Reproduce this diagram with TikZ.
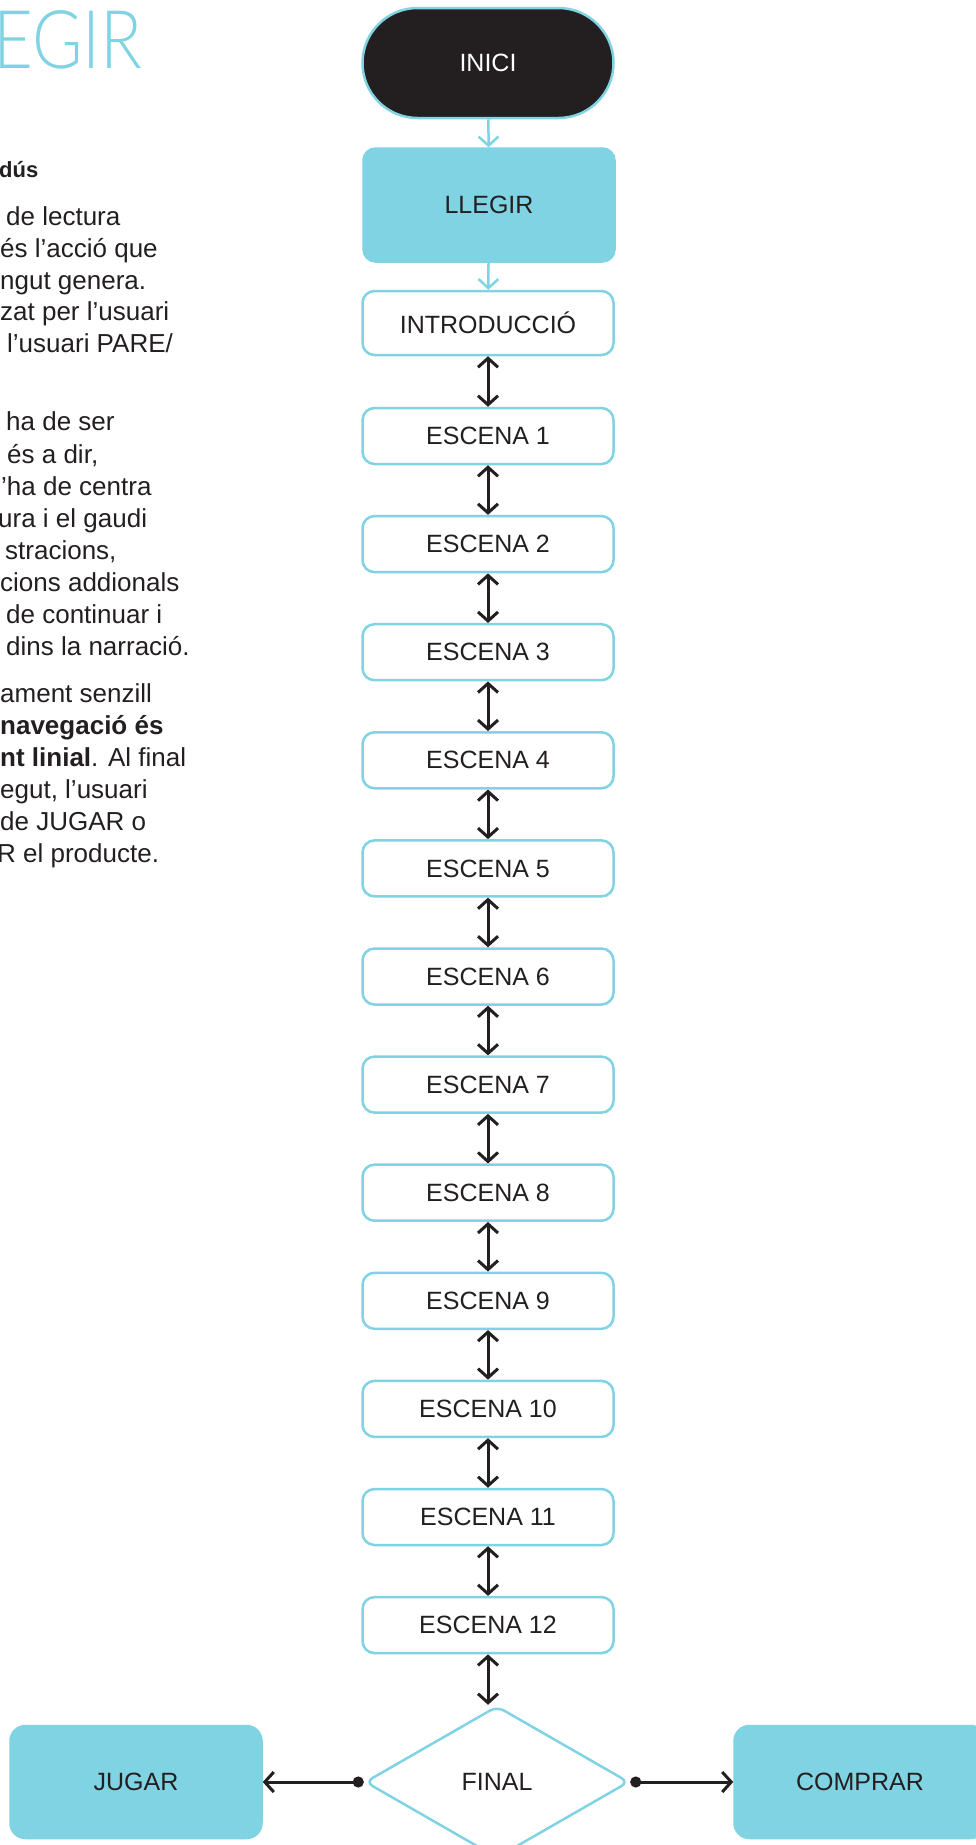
\documentclass[tikz,border=0pt]{standalone}
\usepackage{fontspec}
\setmainfont{Liberation Sans}
\newfontfamily\titlefont{Lato Light}
\usepackage{graphicx}
\usetikzlibrary{shapes.geometric, arrows.meta, positioning}
\definecolor{llblue}{RGB}{128,211,227}
\definecolor{inkblack}{RGB}{35,31,32}
\tikzset{chev/.tip={Straight Barb[length=9pt,width=20pt]}, >=chev}
\tikzset{
  box/.style={draw=llblue, line width=2.5pt, rounded corners=12pt, minimum width=251pt,
    inner sep=0pt, text=inkblack, font=\fontsize{25}{30}\selectfont},
  scene/.style={box, fill=white, minimum height=56pt},
  fullbox/.style={box, fill=llblue, minimum height=113pt},
  link/.style={<->, line width=3pt, draw=inkblack},
  flow/.style={->, line width=2.5pt, draw=llblue},
  branch/.style={{Circle[length=11pt]}-chev, line width=3pt, draw=inkblack},
  para/.style={anchor=base west, inner sep=0pt, text=inkblack, font=\fontsize{26}{32}\selectfont},
}

\begin{document}
\begin{tikzpicture}[x=1pt, y=-1pt]
\useasboundingbox (0,0) rectangle (975,1845);

% text column, cut at the left edge
\node[anchor=base west, inner sep=0pt, text=llblue, font=\titlefont\fontsize{81}{81}\selectfont]
  (title) at (-7,68) {\scalebox{0.85}[1]{EGIR}};
\node[para, font=\fontsize{22}{26}\selectfont] (head) at (-1,177) {\textbf{dús}};
\foreach \y/\x/\t in {225/6/{de lectura}, 257/0/{és l’acció que}, 289/0/{ngut genera.},
    320/0/{zat per l’usuari}, 352/7/{l’usuari PARE/}, 430/6/{ha de ser}, 463/7/{és a dir,},
    495/1/{’ha de centra}, 527/-2/{ura i el gaudi}, 559/5/{stracions,}, 591/0/{cions addionals},
    623/6/{de continuar i}, 655/6/{dins la narració.}, 702/0/{ament senzill},
    734/0/{\textbf{navegació és}}, 766/0/{\textbf{nt linial}. Al final}, 798/0/{egut, l’usuari},
    830/0/{de JUGAR o}, 862/-3/{R el producte.}} {
  \node[para] (txt\y) at (\x,\y) {\t};
}

% flowchart
\node[box, fill=inkblack, text=white, minimum height=110pt, rounded corners=55pt] (inici) at (488,63) {INICI};
\node[fullbox] (llegir) at (489,205) {LLEGIR};
\node[scene, minimum height=64pt] (intro) at (488,323) {INTRODUCCIÓ};
\foreach \i in {1,...,12} {
  \node[scene] (escena\i) at (488,{436+108.1*(\i-1)}) {ESCENA \i};
}
\node[diamond, draw=llblue, line width=2.5pt, minimum width=264pt, minimum height=152pt,
  rounded corners=8pt, inner sep=0pt, text=inkblack, font=\fontsize{25}{30}\selectfont]
  (final) at (497,1782) {FINAL};
\node[fullbox, minimum height=112pt, rounded corners=15pt] (jugar) at (136,1782) {JUGAR};
\node[fullbox, minimum height=112pt, rounded corners=15pt] (comprar) at (860,1782) {COMPRAR};

\draw[flow] (inici) -- (llegir);
\draw[flow] (llegir) -- (intro);
\draw[link] (intro) -- (escena1);
\foreach \i [count=\j from 2] in {1,...,11} {
  \draw[link] (escena\i) -- (escena\j);
}
\draw[link] (escena12.south) -- (escena12.south |- final.north);
\draw[branch] (final.west) -- (jugar.east);
\draw[branch] (final.east) -- (comprar.west);

\end{tikzpicture}
\end{document}
